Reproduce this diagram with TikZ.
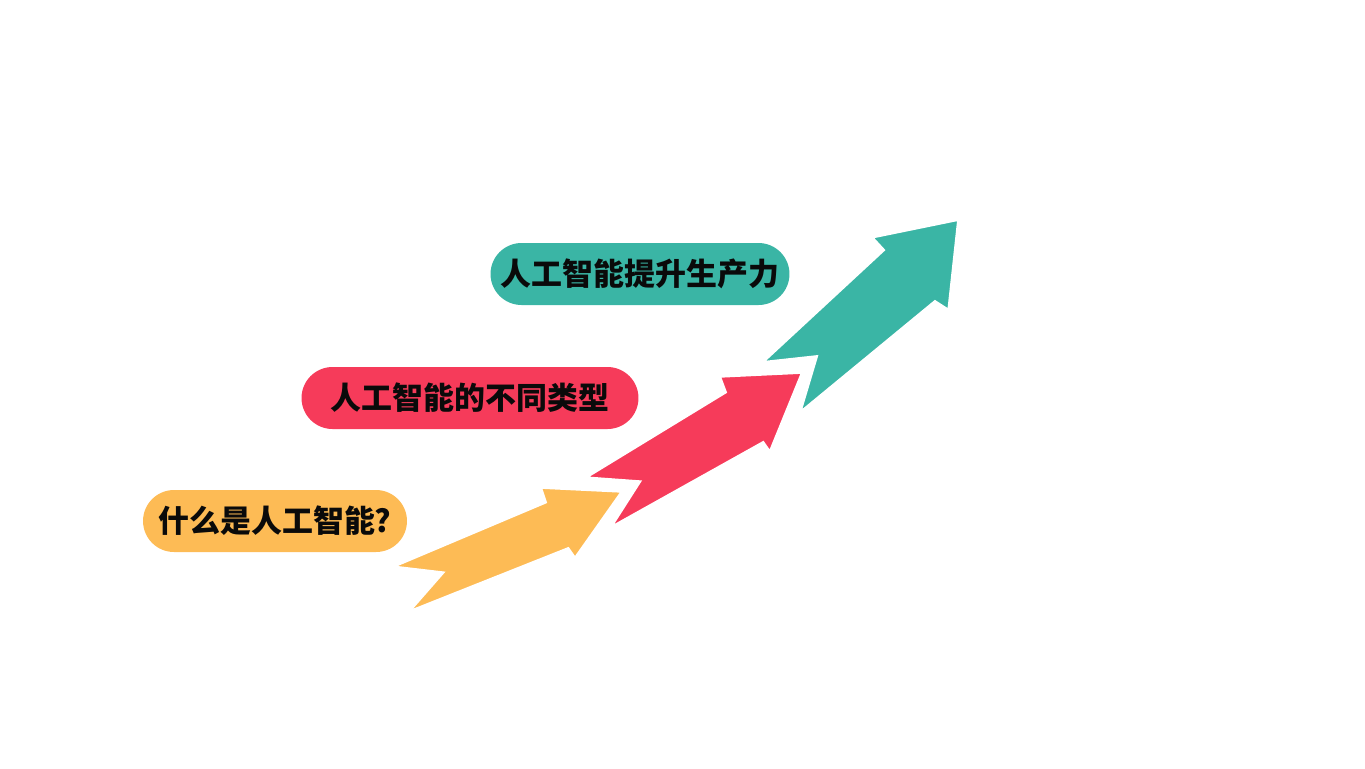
\documentclass[tikz,border=0pt]{standalone}
\usepackage{fontspec}
\newfontfamily\cjk{Noto Sans CJK SC}
\usepackage{tikz}
\usetikzlibrary{shapes}
\usetikzlibrary{positioning}
\definecolor{sunyellow}{RGB}{253,187,85}
\definecolor{rosered}{RGB}{246,59,90}
\definecolor{seateal}{RGB}{58,181,165}
\definecolor{inkblack}{RGB}{10,10,10}

\begin{document}
\begin{tikzpicture}[x=0.02cm, y=-0.02cm,
    pill/.style={rounded rectangle, minimum height=1.24cm, inner sep=0pt,
        font=\cjk\bfseries\fontsize{17.6pt}{17.6pt}\selectfont, text=inkblack},
    stepshape/.style={draw=white, line width=2pt, line join=miter}]
%
\useasboundingbox (0,0) rectangle (1365,768);

%
\draw[stepshape, fill=sunyellow] (391,567) -- (545,502) -- (540,487) -- (623,491)
    -- (575,559) -- (568,549) -- (407,613) -- (442,573) -- cycle;
\draw[stepshape, fill=rosered] (584,478) -- (725,392) -- (719,376) -- (803,372)
    -- (770,453) -- (763,443) -- (609,529) -- (639,482) -- cycle;
\draw[stepshape, fill=seateal] (761,363) -- (883,250) -- (871,237) -- (959,219)
    -- (949,311) -- (935,302) -- (799,414) -- (816,357) -- cycle;

%
\node[pill, fill=sunyellow, minimum width=5.28cm](whatai) at (275,521) {什么是人工智能?};
\node[pill, fill=rosered, minimum width=6.74cm](aitypes) at (470,398) {人工智能的不同类型};
\node[pill, fill=seateal, minimum width=5.98cm](aiboost) at (640,274) {人工智能提升生产力};

\end{tikzpicture}
\end{document}
